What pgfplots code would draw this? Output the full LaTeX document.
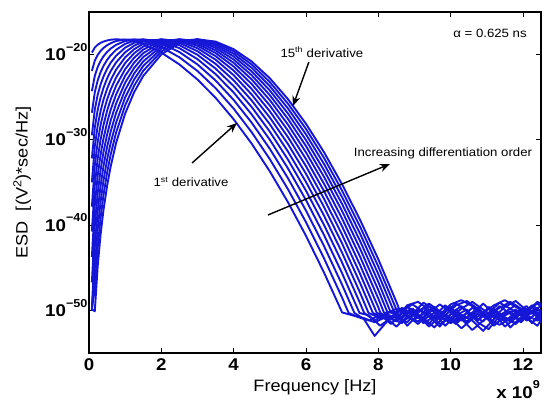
\documentclass[border=0pt]{standalone}
\usepackage{pgfplots}
\pgfplotsset{compat=1.18}
\usepackage{fontspec}
\setmainfont{Liberation Sans}[FakeStretch=1.1]
\usetikzlibrary{arrows.meta}
\definecolor{matblue}{RGB}{22,22,215}
\tikzset{
  arr/.style={black, line width=1.4pt, -{Stealth[length=10pt,width=8pt]}},
  ann/.style={font=\fontsize{12}{14}\selectfont},
}

\begin{document}
\begin{tikzpicture}
\begin{axis}[
  at={(0,0)}, anchor=south west,
  scale only axis, width=452pt, height=341pt,
  xmin=0, xmax=12.5, ymin=-55, ymax=-15,
  xtick={0,2,...,12},
  xticklabels={0,2,4,6,8,10,12},
  ytick={-50,-40,-30,-20},
  yticklabels={10\raisebox{0.55em}{\fontsize{11.5}{12}\selectfont −50},
               10\raisebox{0.55em}{\fontsize{11.5}{12}\selectfont −40},
               10\raisebox{0.55em}{\fontsize{11.5}{12}\selectfont −30},
               10\raisebox{0.55em}{\fontsize{11.5}{12}\selectfont −20}},
  tick label style={font=\fontsize{17}{20}\selectfont\bfseries},
  yticklabel style={anchor=base east, yshift=-6pt, xshift=2pt},
  xticklabel style={yshift=-2pt},
  label style={font=\fontsize{16.5}{19}\selectfont},
  xlabel={Frequency [Hz]},
  ylabel={ESD\ \ [(V\textsuperscript{2})*sec/Hz]},
  xlabel style={at={(axis description cs:0.5,-0.1)}, anchor=center},
  ylabel style={at={(axis description cs:-0.148,0.5)}, anchor=center},
  axis line style={line width=2pt},
  tick style={line width=0.8pt, black},
  major tick length=5pt,
  tick align=inside,
  esd/.style={matblue, line width=1.9pt, line join=round, no marks},
]
% 1st derivative
\addplot[esd] coordinates {(0.08,-19.76)(0.16,-19.17)(0.24,-18.84)(0.32,-18.62)(0.4,-18.47)(0.5,-18.34)(0.6,-18.25)(0.75,-18.20)(1,-18.26)(1.25,-18.46)(1.5,-18.78)(2,-19.76)(2.5,-21.15)(3,-22.92)(3.5,-25.06)(4,-27.58)(4.5,-30.45)(5,-33.69)(5.5,-37.29)(6,-41.25)(6.5,-45.57)(7,-50.24)
 (7.3,-50.6)(7.6,-50.9)(7.9,-51.4)(8.2,-50.8)(8.5,-51.9)(8.8,-50.7)(9.1,-51.3)(9.4,-50.2)(9.7,-51.6)(10.0,-50.9)(10.3,-52.1)(10.6,-51.0)(10.9,-50.4)(11.2,-51.7)(11.5,-50.8)(11.8,-51.5)(12.1,-50.6)(12.4,-51.2)(12.6,-50.9)};
% 2nd
\addplot[esd] coordinates {(0.08,-21.91)(0.16,-20.72)(0.24,-20.04)(0.32,-19.57)(0.4,-19.22)(0.5,-18.90)(0.6,-18.66)(0.75,-18.41)(1,-18.22)(1.25,-18.22)(1.5,-18.39)(2,-19.12)(2.5,-20.31)(3,-21.92)(3.5,-23.93)(4,-26.33)(4.5,-29.11)(5,-32.26)(5.5,-35.77)(6,-39.65)(6.5,-43.90)(7,-48.51)(7.18,-50.3)
 (7.45,-50.8)(7.75,-51.2)(8.05,-50.5)(8.35,-51.6)(8.65,-50.4)(8.95,-49.8)(9.25,-51.1)(9.55,-50.3)(9.85,-51.8)(10.15,-50.6)(10.45,-49.9)(10.75,-51.4)(11.05,-52.2)(11.35,-50.7)(11.65,-50.1)(11.95,-51.3)(12.25,-50.2)(12.55,-51.0)};
% 3rd
\addplot[esd] coordinates {(0.08,-24.29)(0.16,-22.50)(0.24,-21.46)(0.32,-20.75)(0.4,-20.20)(0.5,-19.69)(0.6,-19.29)(0.75,-18.85)(1,-18.41)(1.25,-18.22)(1.5,-18.23)(2,-18.70)(2.5,-19.70)(3,-21.15)(3.5,-23.03)(4,-25.31)(4.5,-27.99)(5,-31.05)(5.5,-34.48)(6,-38.29)(6.5,-42.46)(7,-47.00)(7.34,-50.3)
 (7.6,-51.0)(7.9,-53.0)(8.2,-51.5)(8.5,-50.2)(8.8,-51.8)(9.1,-50.5)(9.4,-51.9)(9.7,-50.8)(10.0,-49.6)(10.3,-51.0)(10.6,-52.3)(10.9,-51.2)(11.2,-50.3)(11.5,-51.9)(11.8,-50.9)(12.1,-49.8)(12.4,-50.7)(12.6,-51.6)};
% 4th
\addplot[esd] coordinates {(0.08,-26.82)(0.16,-24.42)(0.24,-23.04)(0.32,-22.07)(0.4,-21.33)(0.5,-20.62)(0.6,-20.07)(0.75,-19.43)(1,-18.74)(1.25,-18.36)(1.5,-18.21)(2,-18.44)(2.5,-19.24)(3,-20.53)(3.5,-22.28)(4,-24.44)(4.5,-27.02)(5,-29.98)(5.5,-33.33)(6,-37.06)(6.5,-41.17)(7,-45.65)(7.48,-50.3)
 (7.75,-50.6)(8.05,-51.8)(8.35,-50.9)(8.65,-51.5)(8.95,-50.2)(9.25,-50.9)(9.55,-52.0)(9.85,-50.5)(10.15,-51.3)(10.45,-50.8)(10.75,-49.7)(11.05,-50.9)(11.35,-51.7)(11.65,-51.0)(11.95,-49.9)(12.25,-51.4)(12.55,-50.6)};
% 5th
\addplot[esd] coordinates {(0.08,-29.46)(0.16,-26.46)(0.24,-24.72)(0.32,-23.50)(0.4,-22.57)(0.5,-21.67)(0.6,-20.95)(0.75,-20.13)(1,-19.18)(1.25,-18.61)(1.5,-18.30)(2,-18.28)(2.5,-18.89)(3,-20.02)(3.5,-21.63)(4,-23.68)(4.5,-26.15)(5,-29.03)(5.5,-32.30)(6,-35.95)(6.5,-39.99)(7,-44.40)(7.5,-49.19)(7.61,-50.3)
 (7.9,-51.2)(8.2,-50.4)(8.5,-50.9)(8.8,-49.6)(9.1,-50.8)(9.4,-51.6)(9.7,-50.1)(10.0,-51.4)(10.3,-50.5)(10.6,-51.2)(10.9,-52.4)(11.2,-51.0)(11.5,-50.2)(11.8,-49.4)(12.1,-50.9)(12.4,-51.8)(12.6,-50.5)};
% 6th
\addplot[esd] coordinates {(0.08,-32.18)(0.16,-28.58)(0.24,-26.49)(0.32,-25.03)(0.4,-23.90)(0.5,-22.80)(0.6,-21.93)(0.75,-20.91)(1,-19.72)(1.25,-18.95)(1.5,-18.48)(2,-18.21)(2.5,-18.62)(3,-19.60)(3.5,-21.08)(4,-23.01)(4.5,-25.38)(5,-28.16)(5.5,-31.35)(6,-34.93)(6.5,-38.89)(7,-43.24)(7.5,-47.97)(7.73,-50.3)
 (8.05,-50.9)(8.35,-50.1)(8.65,-51.3)(8.95,-50.6)(9.25,-49.7)(9.55,-50.8)(9.85,-51.1)(10.15,-49.9)(10.45,-51.5)(10.75,-50.4)(11.05,-51.0)(11.35,-50.3)(11.65,-52.0)(11.95,-50.8)(12.25,-49.6)(12.55,-50.9)};
% 7th
\addplot[esd] coordinates {(0.08,-34.98)(0.16,-30.78)(0.24,-28.34)(0.32,-26.62)(0.4,-25.30)(0.5,-24.01)(0.6,-22.98)(0.75,-21.76)(1,-20.32)(1.25,-19.36)(1.5,-18.73)(2,-18.21)(2.5,-18.43)(3,-19.25)(3.5,-20.59)(4,-22.41)(4.5,-24.68)(5,-27.37)(5.5,-30.47)(6,-33.97)(6.5,-37.87)(7,-42.16)(7.5,-46.82)(7.85,-50.3)
 (8.2,-51.0)(8.5,-50.6)(8.8,-51.4)(9.1,-49.9)(9.4,-50.7)(9.7,-51.9)(10.0,-50.4)(10.3,-49.5)(10.6,-50.6)(10.9,-51.3)(11.2,-49.8)(11.5,-50.9)(11.8,-51.6)(12.1,-50.4)(12.4,-49.7)(12.6,-51.1)};
% 8th
\addplot[esd] coordinates {(0.08,-37.84)(0.16,-33.04)(0.24,-30.24)(0.32,-28.28)(0.4,-26.76)(0.5,-25.28)(0.6,-24.09)(0.75,-22.68)(1,-20.99)(1.25,-19.83)(1.5,-19.05)(2,-18.27)(2.5,-18.30)(3,-18.96)(3.5,-20.17)(4,-21.87)(4.5,-24.04)(5,-26.64)(5.5,-29.66)(6,-33.08)(6.5,-36.91)(7,-41.13)(7.5,-45.74)(7.96,-50.3)
 (8.35,-50.8)(8.65,-49.9)(8.95,-51.2)(9.25,-50.4)(9.55,-49.6)(9.85,-50.7)(10.15,-51.6)(10.45,-50.3)(10.75,-51.2)(11.05,-49.6)(11.35,-50.5)(11.65,-51.3)(11.95,-50.1)(12.25,-51.5)(12.55,-49.8)};
% 9th
\addplot[esd] coordinates {(0.08,-40.75)(0.16,-35.35)(0.24,-32.20)(0.32,-29.99)(0.4,-28.28)(0.5,-26.60)(0.6,-25.25)(0.75,-23.65)(1,-21.71)(1.25,-20.36)(1.5,-19.41)(2,-18.39)(2.5,-18.23)(3,-18.73)(3.5,-19.80)(4,-21.39)(4.5,-23.45)(5,-25.96)(5.5,-28.90)(6,-32.25)(6.5,-36.01)(7,-40.16)(7.5,-44.71)(8,-49.64)(8.06,-50.3)
 (8.2,-50.7)(8.5,-51.3)(8.8,-50.2)(9.1,-50.9)(9.4,-49.5)(9.7,-50.6)(10.0,-51.5)(10.3,-50.8)(10.6,-49.7)(10.9,-50.5)(11.2,-51.8)(11.5,-50.6)(11.8,-49.9)(12.1,-51.2)(12.4,-50.3)(12.6,-50.0)};
% 10th
\addplot[esd] coordinates {(0.08,-43.72)(0.16,-37.71)(0.24,-34.21)(0.32,-31.75)(0.4,-29.85)(0.5,-27.97)(0.6,-26.46)(0.75,-24.67)(1,-22.48)(1.25,-20.93)(1.5,-19.83)(2,-18.56)(2.5,-18.20)(3,-18.55)(3.5,-19.49)(4,-20.96)(4.5,-22.91)(5,-25.33)(5.5,-28.19)(6,-31.46)(6.5,-35.15)(7,-39.24)(7.5,-43.73)(8,-48.60)(8.16,-50.3)
 (8.35,-50.2)(8.65,-50.9)(8.95,-50.0)(9.25,-51.5)(9.55,-50.7)(9.85,-49.4)(10.15,-50.5)(10.45,-51.3)(10.75,-50.1)(11.05,-50.8)(11.35,-49.5)(11.65,-50.4)(11.95,-51.4)(12.25,-50.0)(12.55,-50.7)};
% 11th
\addplot[esd] coordinates {(0.08,-46.72)(0.16,-40.12)(0.24,-36.26)(0.32,-33.55)(0.4,-31.45)(0.5,-29.39)(0.6,-27.72)(0.75,-25.73)(1,-23.29)(1.25,-21.55)(1.5,-20.29)(2,-18.77)(2.5,-18.22)(3,-18.40)(3.5,-19.21)(4,-20.57)(4.5,-22.42)(5,-24.75)(5.5,-27.52)(6,-30.72)(6.5,-34.34)(7,-38.36)(7.5,-42.79)(8,-47.61)(8.26,-50.3)
 (8.5,-49.8)(8.8,-50.6)(9.1,-51.6)(9.4,-50.3)(9.7,-49.3)(10.0,-50.2)(10.3,-51.2)(10.6,-50.5)(10.9,-49.2)(11.2,-50.4)(11.5,-51.3)(11.8,-50.2)(12.1,-49.5)(12.4,-50.8)(12.6,-51.4)};
% 12th
\addplot[esd] coordinates {(0.08,-49.77)(0.16,-42.56)(0.24,-38.36)(0.32,-35.39)(0.4,-33.10)(0.5,-30.84)(0.6,-29.02)(0.75,-26.83)(1,-24.14)(1.25,-22.21)(1.5,-20.79)(2,-19.02)(2.5,-18.27)(3,-18.30)(3.5,-18.98)(4,-20.21)(4.5,-21.97)(5,-24.20)(5.5,-26.89)(6,-30.02)(6.5,-33.57)(7,-37.53)(7.5,-41.89)(8,-46.66)(8.35,-50.3)
 (8.65,-50.0)(8.95,-49.3)(9.25,-50.2)(9.55,-51.0)(9.85,-50.2)(10.15,-49.2)(10.45,-50.1)(10.75,-51.1)(11.05,-50.3)(11.35,-49.1)(11.65,-49.8)(11.95,-50.6)(12.25,-49.4)(12.55,-50.2)};
% 13th
\addplot[esd] coordinates {(0.08,-50.0)(0.16,-45.04)(0.24,-40.48)(0.32,-37.27)(0.4,-34.79)(0.5,-32.33)(0.6,-30.35)(0.75,-27.97)(1,-25.03)(1.25,-22.90)(1.5,-21.33)(2,-19.31)(2.5,-18.37)(3,-18.23)(3.5,-18.78)(4,-19.90)(4.5,-21.55)(5,-23.69)(5.5,-26.30)(6,-29.35)(6.5,-32.83)(7,-36.73)(7.5,-41.03)(8,-45.74)(8.45,-50.3)
 (8.8,-49.6)(9.1,-50.3)(9.4,-49.2)(9.7,-50.1)(10.0,-50.9)(10.3,-49.8)(10.6,-49.0)(10.9,-49.9)(11.2,-50.8)(11.5,-49.6)(11.8,-48.9)(12.1,-50.0)(12.4,-49.2)(12.6,-49.9)};
% 14th
\addplot[esd] coordinates {(0.08,-49.8)(0.16,-47.55)(0.24,-42.65)(0.32,-39.18)(0.4,-36.50)(0.5,-33.86)(0.6,-31.71)(0.75,-29.14)(1,-25.95)(1.25,-23.63)(1.5,-21.90)(2,-19.63)(2.5,-18.49)(3,-18.20)(3.5,-18.61)(4,-19.61)(4.5,-21.16)(5,-23.22)(5.5,-25.74)(6,-28.71)(6.5,-32.12)(7,-35.96)(7.5,-40.20)(8,-44.85)(8.5,-49.90)(8.54,-50.3)
 (8.65,-49.7)(8.95,-50.4)(9.25,-49.1)(9.55,-49.9)(9.85,-50.6)(10.15,-49.4)(10.45,-48.9)(10.75,-49.8)(11.05,-50.7)(11.35,-49.7)(11.65,-49.0)(11.95,-49.8)(12.25,-50.4)(12.55,-49.2)};
% 15th
\addplot[esd] coordinates {(0.08,-49.9)(0.16,-50.1)(0.24,-44.84)(0.32,-41.12)(0.4,-38.25)(0.5,-35.41)(0.6,-33.11)(0.75,-30.35)(1,-26.91)(1.25,-24.39)(1.5,-22.50)(2,-19.98)(2.5,-18.65)(3,-18.20)(3.5,-18.47)(4,-19.36)(4.5,-20.81)(5,-22.77)(5.5,-25.21)(6,-28.11)(6.5,-31.45)(7,-35.22)(7.5,-39.41)(8,-44.00)(8.5,-49.00)(8.62,-50.3)
 (8.8,-49.4)(9.1,-49.0)(9.4,-49.9)(9.7,-50.5)(10.0,-49.3)(10.3,-48.8)(10.6,-49.5)(10.9,-50.3)(11.2,-49.4)(11.5,-48.8)(11.8,-49.6)(12.1,-50.2)(12.4,-49.0)(12.6,-49.5)};

\node[ann] at (axis cs:11.09,-17.46) {α = 0.625 ns};
\node[ann] at (axis cs:6.44,-19.69) {15\textsuperscript{th} derivative};
\draw[arr] (axis cs:6.08,-20.87) -- (axis cs:5.64,-26.03);
\node[ann] at (axis cs:2.82,-34.94) {1\textsuperscript{st} derivative};
\draw[arr] (axis cs:2.85,-32.71) -- (axis cs:4.09,-28.02);
\node[ann] at (axis cs:9.79,-31.54) {Increasing differentiation order};
\draw[arr] (axis cs:4.95,-38.81) -- (axis cs:8.32,-32.83);
\end{axis}
\node[anchor=base east, font=\fontsize{17}{20}\selectfont\bfseries, inner sep=0pt]
  at (451pt,-45pt) {x 10\raisebox{0.55em}{\fontsize{11.5}{12}\selectfont 9}};
\pgfresetboundingbox
\path[use as bounding box] (-89pt,-49pt) rectangle (455pt,353pt);
\end{tikzpicture}
\end{document}
